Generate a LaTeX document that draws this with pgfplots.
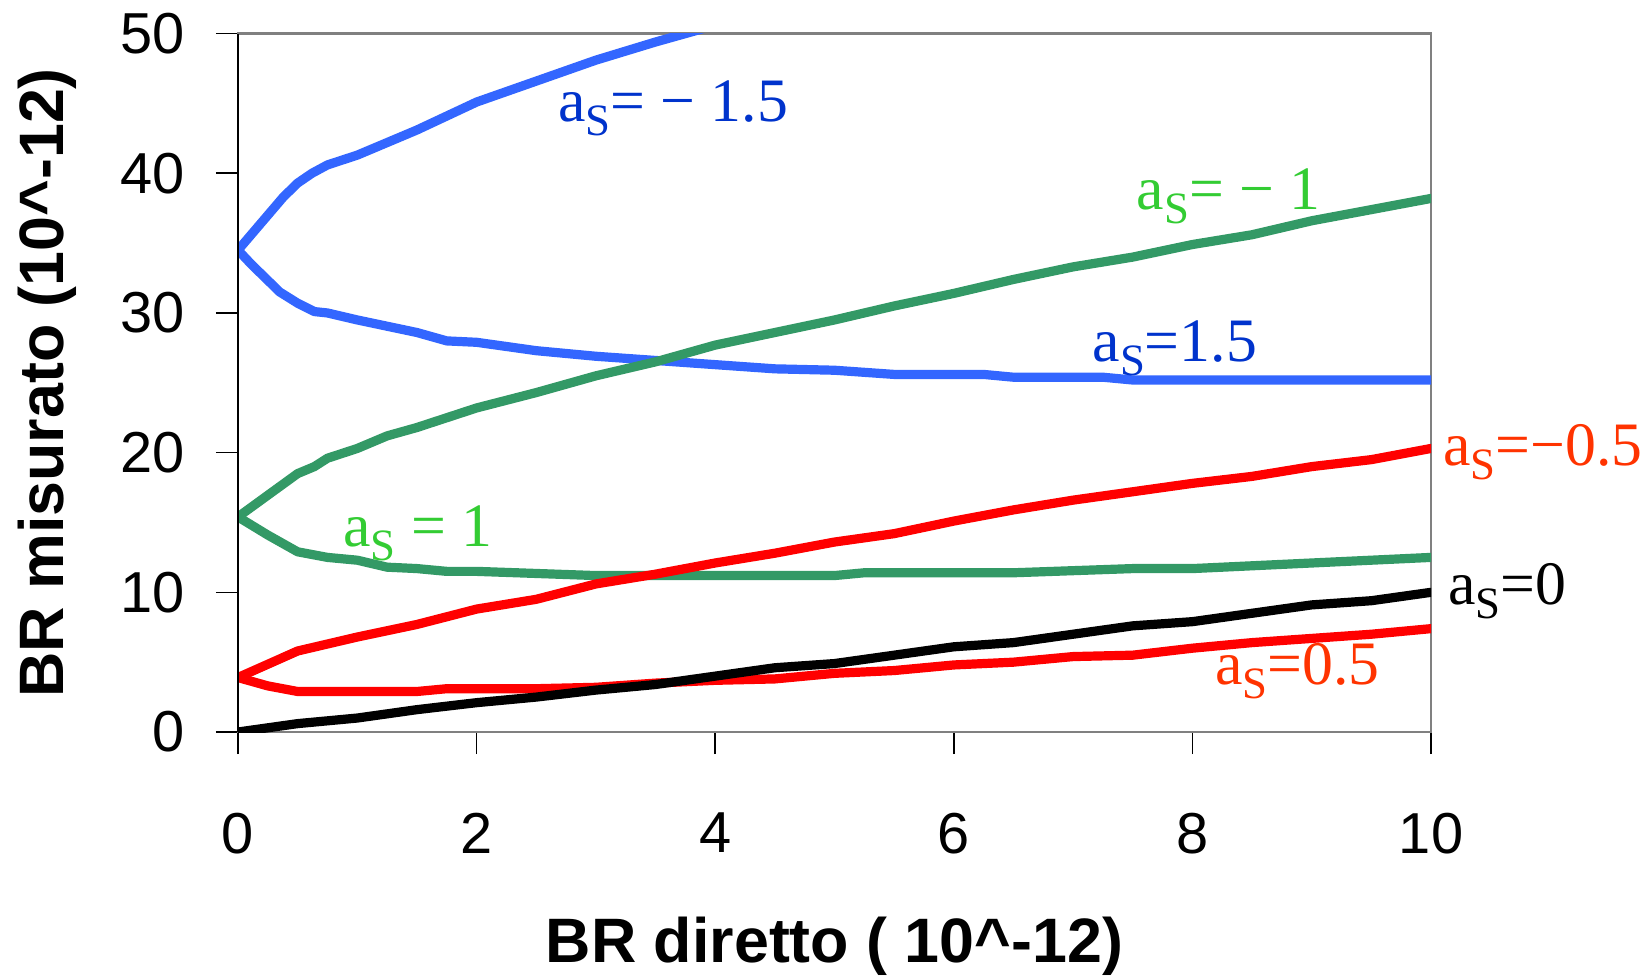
\documentclass[border=0pt]{standalone}
\usepackage{fontspec}
\setmainfont{Liberation Serif}
\newfontfamily\arial{Liberation Sans}
\usepackage{pgfplots}
\pgfplotsset{compat=1.18}
\definecolor{lblue}{HTML}{3366FF}
\definecolor{tblue}{HTML}{0033CC}
\definecolor{lgreen}{HTML}{339966}
\definecolor{tgreen}{HTML}{33CC33}
\definecolor{lred}{HTML}{FF0000}
\definecolor{tred}{HTML}{FF3300}
\newcommand{\as}{a\raisebox{-7bp}{\fontsize{22.5}{22.5}\selectfont S}}
\pgfplotsset{cur/.style={line width=4.6bp, line join=round, line cap=round}}
\begin{document}
\begin{tikzpicture}
\useasboundingbox (-119bp,-123bp) rectangle (702.5bp,366bp);
\begin{axis}[
  at={(0,0)}, anchor=south west,
  scale only axis, width=596.5bp, height=349.2bp,
  xmin=0, xmax=10, ymin=0, ymax=50,
  xtick={0,2,...,10}, ytick={0,10,...,50},
  tick pos=left, tick align=outside,
  major tick length=11bp,
  tick style={black, line width=0.8bp},
  axis line style={gray, line width=1.2bp},
  ticklabel style={font=\arial\fontsize{29}{29}\selectfont},
  /pgf/number format/assume math mode=true,
  xticklabel style={yshift=-26bp},
  yticklabel style={xshift=-12bp},
  xlabel={\arial\bfseries\fontsize{31.5}{31.5}\selectfont BR diretto ( 10\^{}-12)},
  ylabel={\arial\bfseries\fontsize{31.5}{31.5}\selectfont BR misurato (10\^{}-12)},
  xlabel style={at={(axis description cs:0.5,0)}, anchor=center, yshift=-107bp},
  ylabel style={at={(axis description cs:0,0.5)}, anchor=center, yshift=95.5bp},
  clip=true,
]
% a_s = -1.5 (blue upper)
\addplot[lblue, cur] coordinates {(0,34.5) (0.11,35.6) (0.25,37.0) (0.38,38.3) (0.5,39.3) (0.62,40.0) (0.75,40.6) (1,41.3) (1.25,42.2) (1.5,43.1) (1.75,44.1) (2,45.1) (2.5,46.6) (3,48.1) (3.5,49.4) (4,50.6) (4.5,51.9)};
% a_s = 1.5 (blue lower)
\addplot[lblue, cur] coordinates {(0,34.5) (0.11,33.5) (0.35,31.5) (0.5,30.7) (0.64,30.1) (0.75,30.0) (1,29.5) (1.5,28.6) (1.75,28.0) (2,27.9) (2.5,27.3) (3,26.9) (3.5,26.6) (4,26.3) (4.5,26.0) (5,25.9) (5.5,25.6) (6.25,25.6) (6.5,25.4) (7.25,25.4) (7.5,25.2) (10,25.2)};
% a_s = -1 (green upper)
\addplot[lgreen, cur] coordinates {(0,15.4) (0.29,17.2) (0.5,18.5) (0.64,19.0) (0.75,19.6) (1,20.3) (1.25,21.2) (1.5,21.8) (2,23.2) (2.5,24.3) (3,25.5) (3.5,26.5) (4,27.7) (4.5,28.6) (5,29.5) (5.5,30.5) (6,31.4) (6.5,32.4) (7,33.3) (7.5,34.0) (8,34.9) (8.5,35.6) (9,36.6) (9.5,37.4) (10,38.2)};
% a_s = 1 (green lower)
\addplot[lgreen, cur] coordinates {(0,15.4) (0.25,14.1) (0.5,12.9) (0.75,12.5) (1,12.3) (1.25,11.8) (1.5,11.7) (1.75,11.5) (2,11.5) (3,11.2) (4,11.2) (5,11.2) (5.25,11.4) (6.5,11.4) (7.5,11.7) (8,11.7) (9,12.1) (10,12.5)};
% a_s = -0.5 (red upper)
\addplot[lred, cur] coordinates {(0,3.9) (0.5,5.8) (1,6.8) (1.5,7.7) (2,8.8) (2.5,9.5) (3,10.6) (3.5,11.3) (4,12.1) (4.5,12.8) (5,13.6) (5.5,14.2) (6,15.1) (6.5,15.9) (7,16.6) (7.5,17.2) (8,17.8) (8.5,18.3) (9,19.0) (9.5,19.5) (10,20.3)};
% a_s = 0.5 (red lower)
\addplot[lred, cur] coordinates {(0,3.9) (0.25,3.3) (0.5,2.9) (1.5,2.9) (1.75,3.1) (2.5,3.1) (3,3.2) (3.5,3.5) (4,3.7) (4.5,3.8) (5,4.2) (5.5,4.4) (6,4.8) (6.5,5.0) (7,5.4) (7.5,5.5) (8,6.0) (8.5,6.4) (9,6.7) (9.5,7.0) (10,7.4)};
% a_s = 0 (black)
\addplot[black, cur] coordinates {(0,0) (0.5,0.6) (1,1.0) (1.5,1.6) (2,2.1) (2.5,2.5) (3,3.0) (3.5,3.4) (4,4.0) (4.5,4.6) (5,4.9) (5.5,5.5) (6,6.1) (6.5,6.4) (7,7.0) (7.5,7.6) (8,7.9) (8.5,8.5) (9,9.1) (9.5,9.4) (10,10.0)};
\end{axis}
\draw[black, line width=1.2bp] (0,0) -- (0,349.2bp);
\begin{scope}[every node/.style={anchor=base west, inner sep=0pt, font=\fontsize{31}{31}\selectfont}]
\node[tblue]  at (2.68*59.65bp, 43.7*6.984bp) {\as= − 1.5};
\node[tgreen] at (7.53*59.65bp, 37.4*6.984bp) {\as= − 1};
\node[tblue]  at (7.16*59.65bp, 26.5*6.984bp) {\as=1.5};
\node[tred]   at (10.1*59.65bp, 19.1*6.984bp) {\as=−0.5};
\node[tgreen] at (0.88*59.65bp, 13.3*6.984bp) {\as\ = 1};
\node[black]  at (10.14*59.65bp, 9.1*6.984bp) {\as=0};
\node[tred]   at (8.19*59.65bp, 3.4*6.984bp) {\as=0.5};
\end{scope}
\end{tikzpicture}
\end{document}
